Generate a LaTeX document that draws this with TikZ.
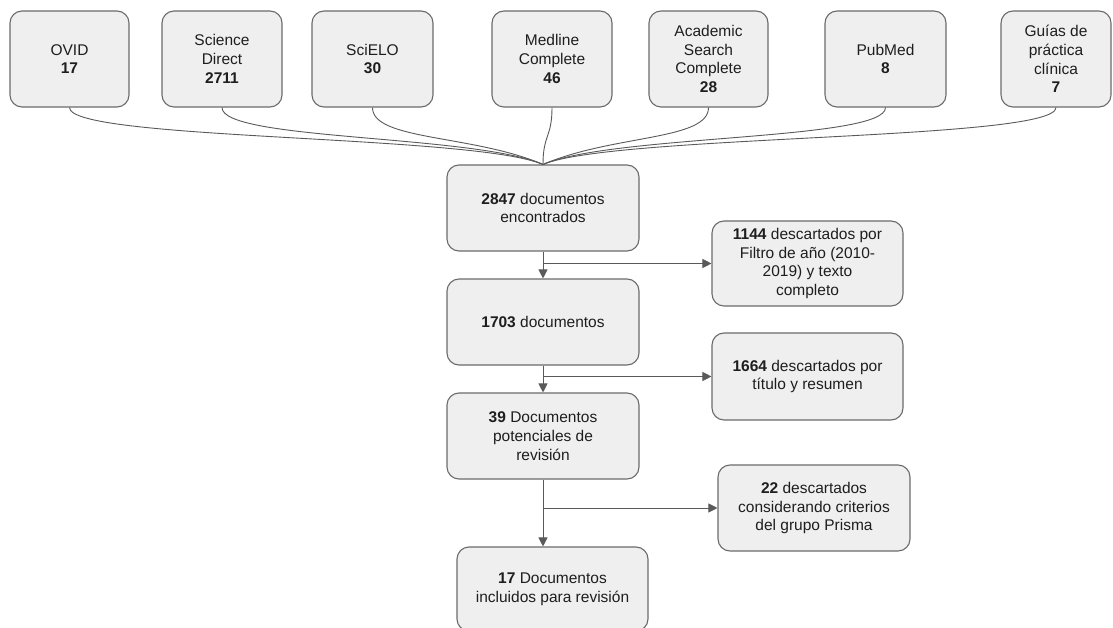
\documentclass[tikz,border=0pt]{standalone}
\usepackage{fontspec}
\setmainfont{Liberation Sans}
\usetikzlibrary{arrows.meta,calc}
\definecolor{boxfill}{HTML}{EFEFEF}
\definecolor{boxline}{HTML}{6B6B6B}
\definecolor{edgecol}{HTML}{5A5A5A}
\definecolor{txt}{HTML}{1E1E1E}
\begin{document}
\begin{tikzpicture}[x=1pt,y=-1pt,
  box/.style={draw=boxline, fill=boxfill, line width=1.1pt, rounded corners=12pt, align=center, inner sep=0pt, text=txt, font=\fontsize{15.5}{18.7}\selectfont},
  topbox/.style={box, minimum width=120pt, minimum height=96pt},
  midbox/.style={box, minimum width=192pt, minimum height=86pt},
  link/.style={draw=edgecol, line width=0.9pt},
  arr/.style={link, -{Triangle[length=9pt,width=9pt]}}]
\useasboundingbox (0,0) rectangle (1113,628);
\clip (0,0) rectangle (1113,628);
\fill[white] (0,0) rectangle (1113,628);
% top row
\node[topbox, minimum width=119pt] (ovid) at (69.5,59) {OVID\\\textbf{17}};
\node[topbox] (sd) at (222,59) {Science\\Direct\\\textbf{2711}};
\node[topbox, minimum width=121pt] (scielo) at (372.5,59) {SciELO\\\textbf{30}};
\node[topbox] (med) at (552,59) {Medline\\Complete\\\textbf{46}};
\node[topbox, minimum width=119pt] (acad) at (708.5,59) {Academic\\Search\\Complete\\\textbf{28}};
\node[topbox, minimum width=121pt] (pub) at (885.5,59) {PubMed\\\textbf{8}};
\node[topbox, minimum width=110pt] (guias) at (1056,59) {Guías de\\práctica\\clínica\\\textbf{7}};
% middle column
\node[midbox] (n2847) at (543,208) {\textbf{2847} documentos\\encontrados};
\node[midbox] (n1703) at (543,322) {\textbf{1703} documentos};
\node[midbox] (n39) at (543,436) {\textbf{39} Documentos\\potenciales de\\revisión};
\node[midbox, minimum width=191pt, minimum height=84pt] (n17) at (552.5,589) {\textbf{17} Documentos\\incluidos para revisión};
% side boxes
\node[midbox, minimum width=191pt, minimum height=85pt] (n1144) at (807.5,263.5) {\textbf{1144} descartados por\\Filtro de año (2010-\\2019) y texto\\completo};
\node[midbox, minimum width=191pt, minimum height=87pt] (n1664) at (807.5,376.5) {\textbf{1664} descartados por\\título y resumen};
\node[midbox] (n22) at (814,508) {\textbf{22} descartados\\considerando criterios\\del grupo Prisma};
% curved connectors
\foreach \s in {ovid,sd,scielo}
  \draw[link] (\s.south) .. controls ($(\s.south)+(0,33)$) and ($(n2847.north)+(-70,-30)$) .. (n2847.north);
\draw[link] (med.south) .. controls ($(med.south)+(0,30)$) and ($(n2847.north)+(0,-30)$) .. (n2847.north);
\foreach \s in {acad,pub,guias}
  \draw[link] (\s.south) .. controls ($(\s.south)+(0,33)$) and ($(n2847.north)+(70,-30)$) .. (n2847.north);
% flow arrows
\draw[arr] (n2847.south) -- (n1703.north);
\draw[arr] (n2847.south) |- (n1144.west);
\draw[arr] (n1703.south) -- (n39.north);
\draw[arr] (n1703.south) |- (n1664.west);
\draw[arr] (n39.south) -- (n39.south |- n17.north);
\draw[arr] (n39.south) |- (n22.west);
\end{tikzpicture}
\end{document}
